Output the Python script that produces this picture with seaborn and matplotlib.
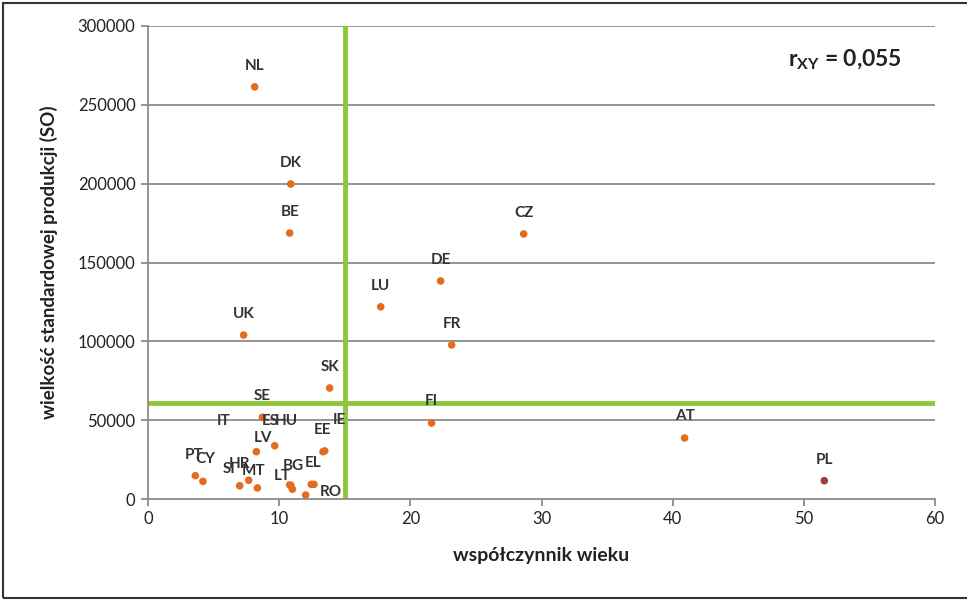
import matplotlib
matplotlib.use("Agg")
import matplotlib.pyplot as plt
import seaborn as sns
import pandas as pd
from matplotlib.patches import Rectangle

# ------------------------------------------------------------
# dane
# ------------------------------------------------------------
countries = ["NL", "DK", "BE", "UK", "CZ", "DE", "LU", "FR", "SK", "FI", "AT", "PL",
             "SE", "ES", "IT", "EE", "IE", "PT", "CY", "SI", "HR", "MT",
             "LT", "BG", "EL", "HU", "RO", "LV"]
age_coef = [8.13, 10.88, 10.80, 7.29, 28.64, 22.31, 17.74, 23.15, 13.85, 21.62, 40.91, 51.56,
            8.72, 9.66, 8.26, 13.34, 13.47, 3.61, 4.19, 6.99, 7.68, 8.34,
            10.80, 11.01, 12.45, 12.65, 12.02, 10.90]
so_size = [261400, 199800, 168700, 104000, 168100, 138300, 121900, 97700, 70400, 48200, 38700, 11600,
           51800, 33800, 30000, 30000, 30500, 14800, 11200, 8400, 11900, 7000,
           8900, 6200, 9300, 9300, 2500, 8600]

x_mean_line = 15
y_mean_line = 61000
r_text = "0,055"

# przesuniecia etykiet w pikselach (dx, dy), domyslnie nad punktem
label_offsets = {
    "IT": (-33, 31), "ES": (-4, 25), "HU": (-28, 63), "LV": (-28, 47),
    "PT": (-1, 21), "CY": (2, 22), "SI": (-11, 17), "HR": (-9, 16), "MT": (-4, 17),
    "LT": (-7, 9), "BG": (1, 23), "EL": (2, 21), "RO": (25, 3),
    "EE": (0, 22), "IE": (15, 31), "AT": (0, 22), "FI": (0, 22),
}

df = pd.DataFrame({"kraj": countries, "x": age_coef, "y": so_size})
df["grp"] = ["PL" if c == "PL" else "EU" for c in countries]

sns.set_style("white")
plt.rcParams["font.family"] = ["Lato", "DejaVu Sans"]
plt.rcParams["mathtext.fontset"] = "custom"
plt.rcParams["mathtext.bf"] = "Lato:bold"
plt.rcParams["mathtext.rm"] = "Lato"

fig = plt.figure(figsize=(9.67, 6.0), dpi=100)
ax = fig.add_axes([148 / 967, 1 - 499 / 600, (935 - 148) / 967, (499 - 26) / 600])

grid_col = "#8c8c8c"
for v in range(50000, 300001, 50000):
    ax.axhline(v, color=grid_col, lw=1.3, zorder=0)

ax.axvline(x_mean_line, color="#8dc63f", lw=3.5, zorder=1)
ax.axhline(y_mean_line, color="#8dc63f", lw=3.5, zorder=1)

sns.scatterplot(data=df, x="x", y="y", hue="grp", palette={"EU": "#e36c1e", "PL": "#9e3b3b"},
                s=30, edgecolor="none", legend=False, ax=ax, zorder=3)

for _, row in df.iterrows():
    dx, dy = label_offsets.get(row["kraj"], (0, 21))
    ax.annotate(row["kraj"], (row["x"], row["y"]), xytext=(dx, dy), textcoords="offset pixels",
                ha="center", va="center", fontsize=11, fontweight="bold", color="#333333", zorder=4)

ax.text(0.886, 0.928, r"$\mathbf{r_{XY}}$ = " + r_text, transform=ax.transAxes,
        ha="center", va="center", fontsize=16.5, fontweight="bold", color="#222222")

ax.set_xlim(0, 60)
ax.set_ylim(0, 300000)
ax.set_xticks(range(0, 61, 10))
ax.set_yticks(range(0, 300001, 50000))
ax.set_yticklabels([str(v) for v in range(0, 300001, 50000)])
ax.tick_params(axis="both", which="both", direction="out", length=5, width=1.3, color=grid_col,
               labelsize=12, labelcolor="#222222", left=True, bottom=True, pad=4)
for side in ["top", "right"]:
    ax.spines[side].set_visible(False)
for side in ["left", "bottom"]:
    ax.spines[side].set_color(grid_col)
    ax.spines[side].set_linewidth(1.3)

ax.set_xlabel("współczynnik wieku", fontsize=14, fontweight="bold", color="#222222", labelpad=14)
ax.set_ylabel("wielkość standardowej produkcji (SO)", fontsize=13.5, fontweight="bold",
              color="#222222", labelpad=14)

# ramka wykresu
fig.patches.append(Rectangle((3 / 967, 2 / 600), 1.0, 1 - 5 / 600, transform=fig.transFigure,
                             fill=False, edgecolor="#333333", lw=1.5))

fig.savefig("out.png", dpi=100)
